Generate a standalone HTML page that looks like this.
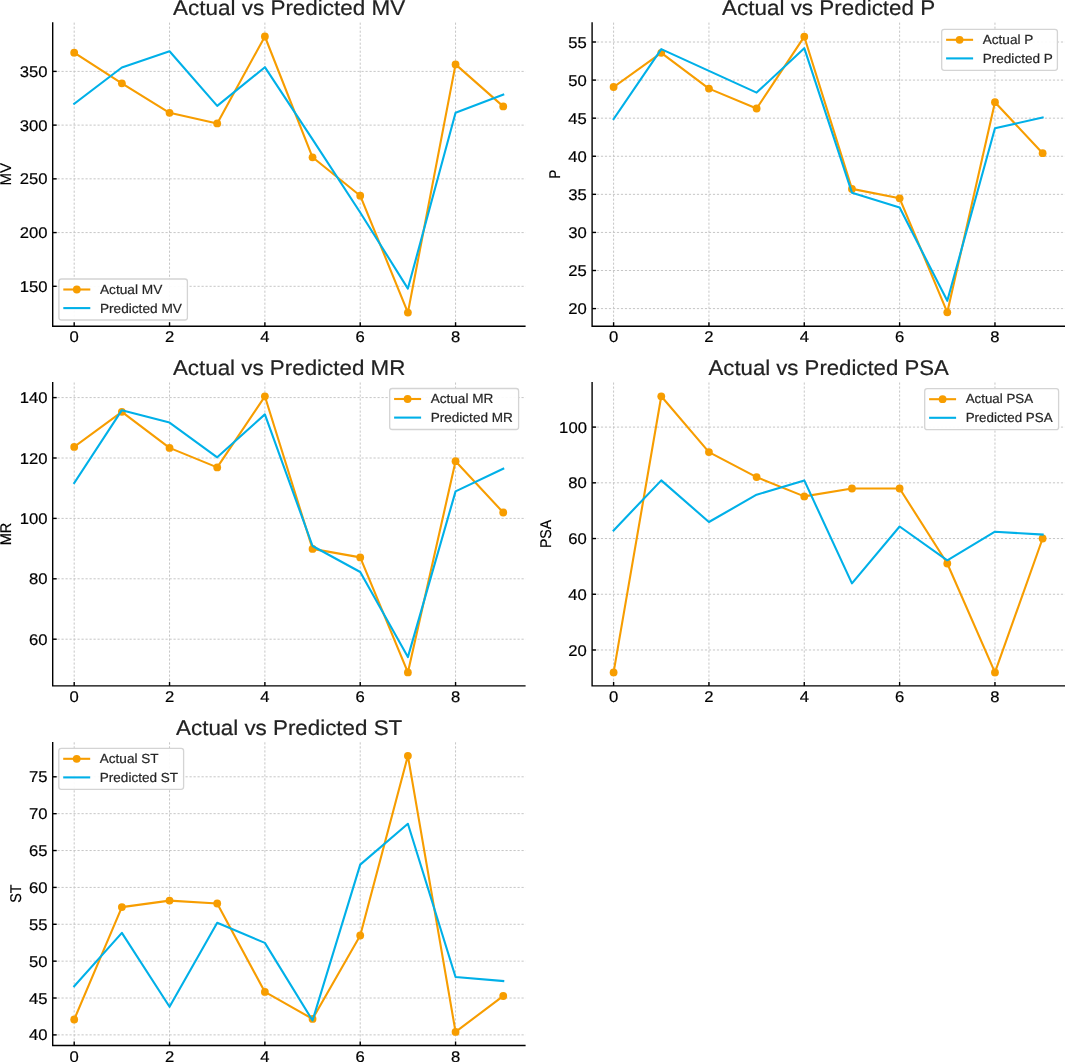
<!DOCTYPE html>
<html><head><meta charset="utf-8"><style>
html,body{margin:0;padding:0;background:#fff;}
svg{display:block;will-change:transform;}
text{font-family:"Liberation Sans",sans-serif;text-rendering:geometricPrecision;stroke-width:0.2px;}
</style></head><body>
<svg width="1065" height="1062" viewBox="0 0 1065 1062">
<rect width="1065" height="1062" fill="#fff"/>
<g stroke="#c6c6c6" stroke-width="1" stroke-dasharray="2.2 1.8" fill="none">
<line x1="74.2" y1="22.2" x2="74.2" y2="326.2" stroke-dashoffset="-0.4"/>
<line x1="169.54" y1="22.2" x2="169.54" y2="326.2" stroke-dashoffset="-0.4"/>
<line x1="264.88" y1="22.2" x2="264.88" y2="326.2" stroke-dashoffset="-0.4"/>
<line x1="360.22" y1="22.2" x2="360.22" y2="326.2" stroke-dashoffset="-0.4"/>
<line x1="455.56" y1="22.2" x2="455.56" y2="326.2" stroke-dashoffset="-0.4"/>
<line x1="52.7" y1="286.3" x2="525.6" y2="286.3" stroke-dashoffset="-0.8"/>
<line x1="52.7" y1="232.58" x2="525.6" y2="232.58" stroke-dashoffset="-0.8"/>
<line x1="52.7" y1="178.85" x2="525.6" y2="178.85" stroke-dashoffset="-0.8"/>
<line x1="52.7" y1="125.12" x2="525.6" y2="125.12" stroke-dashoffset="-0.8"/>
<line x1="52.7" y1="71.4" x2="525.6" y2="71.4" stroke-dashoffset="-0.8"/>
<line x1="613.6" y1="22.2" x2="613.6" y2="326.2" stroke-dashoffset="-0.4"/>
<line x1="708.94" y1="22.2" x2="708.94" y2="326.2" stroke-dashoffset="-0.4"/>
<line x1="804.28" y1="22.2" x2="804.28" y2="326.2" stroke-dashoffset="-0.4"/>
<line x1="899.62" y1="22.2" x2="899.62" y2="326.2" stroke-dashoffset="-0.4"/>
<line x1="994.96" y1="22.2" x2="994.96" y2="326.2" stroke-dashoffset="-0.4"/>
<line x1="592.1" y1="308.6" x2="1065.2" y2="308.6" stroke-dashoffset="-0.8"/>
<line x1="592.1" y1="270.51" x2="1065.2" y2="270.51" stroke-dashoffset="-0.8"/>
<line x1="592.1" y1="232.43" x2="1065.2" y2="232.43" stroke-dashoffset="-0.8"/>
<line x1="592.1" y1="194.34" x2="1065.2" y2="194.34" stroke-dashoffset="-0.8"/>
<line x1="592.1" y1="156.25" x2="1065.2" y2="156.25" stroke-dashoffset="-0.8"/>
<line x1="592.1" y1="118.17" x2="1065.2" y2="118.17" stroke-dashoffset="-0.8"/>
<line x1="592.1" y1="80.09" x2="1065.2" y2="80.09" stroke-dashoffset="-0.8"/>
<line x1="592.1" y1="42" x2="1065.2" y2="42" stroke-dashoffset="-0.8"/>
<line x1="74.2" y1="382.1" x2="74.2" y2="685.9" stroke-dashoffset="-0.4"/>
<line x1="169.54" y1="382.1" x2="169.54" y2="685.9" stroke-dashoffset="-0.4"/>
<line x1="264.88" y1="382.1" x2="264.88" y2="685.9" stroke-dashoffset="-0.4"/>
<line x1="360.22" y1="382.1" x2="360.22" y2="685.9" stroke-dashoffset="-0.4"/>
<line x1="455.56" y1="382.1" x2="455.56" y2="685.9" stroke-dashoffset="-0.4"/>
<line x1="52.7" y1="639.2" x2="525.6" y2="639.2" stroke-dashoffset="-0.8"/>
<line x1="52.7" y1="578.8" x2="525.6" y2="578.8" stroke-dashoffset="-0.8"/>
<line x1="52.7" y1="518.4" x2="525.6" y2="518.4" stroke-dashoffset="-0.8"/>
<line x1="52.7" y1="458" x2="525.6" y2="458" stroke-dashoffset="-0.8"/>
<line x1="52.7" y1="397.6" x2="525.6" y2="397.6" stroke-dashoffset="-0.8"/>
<line x1="613.6" y1="382.1" x2="613.6" y2="685.9" stroke-dashoffset="-0.4"/>
<line x1="708.94" y1="382.1" x2="708.94" y2="685.9" stroke-dashoffset="-0.4"/>
<line x1="804.28" y1="382.1" x2="804.28" y2="685.9" stroke-dashoffset="-0.4"/>
<line x1="899.62" y1="382.1" x2="899.62" y2="685.9" stroke-dashoffset="-0.4"/>
<line x1="994.96" y1="382.1" x2="994.96" y2="685.9" stroke-dashoffset="-0.4"/>
<line x1="592.1" y1="649.98" x2="1065.2" y2="649.98" stroke-dashoffset="-0.8"/>
<line x1="592.1" y1="594.26" x2="1065.2" y2="594.26" stroke-dashoffset="-0.8"/>
<line x1="592.1" y1="538.54" x2="1065.2" y2="538.54" stroke-dashoffset="-0.8"/>
<line x1="592.1" y1="482.82" x2="1065.2" y2="482.82" stroke-dashoffset="-0.8"/>
<line x1="592.1" y1="427.1" x2="1065.2" y2="427.1" stroke-dashoffset="-0.8"/>
<line x1="74.2" y1="741.9" x2="74.2" y2="1045.5" stroke-dashoffset="-0.4"/>
<line x1="169.54" y1="741.9" x2="169.54" y2="1045.5" stroke-dashoffset="-0.4"/>
<line x1="264.88" y1="741.9" x2="264.88" y2="1045.5" stroke-dashoffset="-0.4"/>
<line x1="360.22" y1="741.9" x2="360.22" y2="1045.5" stroke-dashoffset="-0.4"/>
<line x1="455.56" y1="741.9" x2="455.56" y2="1045.5" stroke-dashoffset="-0.4"/>
<line x1="52.7" y1="1034.89" x2="525.6" y2="1034.89" stroke-dashoffset="-0.8"/>
<line x1="52.7" y1="998.02" x2="525.6" y2="998.02" stroke-dashoffset="-0.8"/>
<line x1="52.7" y1="961.15" x2="525.6" y2="961.15" stroke-dashoffset="-0.8"/>
<line x1="52.7" y1="924.28" x2="525.6" y2="924.28" stroke-dashoffset="-0.8"/>
<line x1="52.7" y1="887.41" x2="525.6" y2="887.41" stroke-dashoffset="-0.8"/>
<line x1="52.7" y1="850.54" x2="525.6" y2="850.54" stroke-dashoffset="-0.8"/>
<line x1="52.7" y1="813.67" x2="525.6" y2="813.67" stroke-dashoffset="-0.8"/>
<line x1="52.7" y1="776.8" x2="525.6" y2="776.8" stroke-dashoffset="-0.8"/>
</g>
<g fill="none" stroke-width="2.1" stroke-linejoin="round" stroke-linecap="square">
<polyline points="74.2,52.7 121.87,83.3 169.54,112.8 217.21,123.4 264.88,36.5 312.55,157.3 360.22,195.7 407.89,312.6 455.56,64.4 503.23,106.4" stroke="#F79D00"/>
<circle cx="74.2" cy="52.7" r="3.9" fill="#F79D00" stroke="none"/>
<circle cx="121.87" cy="83.3" r="3.9" fill="#F79D00" stroke="none"/>
<circle cx="169.54" cy="112.8" r="3.9" fill="#F79D00" stroke="none"/>
<circle cx="217.21" cy="123.4" r="3.9" fill="#F79D00" stroke="none"/>
<circle cx="264.88" cy="36.5" r="3.9" fill="#F79D00" stroke="none"/>
<circle cx="312.55" cy="157.3" r="3.9" fill="#F79D00" stroke="none"/>
<circle cx="360.22" cy="195.7" r="3.9" fill="#F79D00" stroke="none"/>
<circle cx="407.89" cy="312.6" r="3.9" fill="#F79D00" stroke="none"/>
<circle cx="455.56" cy="64.4" r="3.9" fill="#F79D00" stroke="none"/>
<circle cx="503.23" cy="106.4" r="3.9" fill="#F79D00" stroke="none"/>
<polyline points="74.2,103.8 121.87,67.5 169.54,51.3 217.21,105.9 264.88,67.2 312.55,139.3 360.22,212.5 407.89,288.6 455.56,112.8 503.23,94.7" stroke="#00B0E8"/>
<polyline points="613.6,87 661.27,52.8 708.94,88.6 756.61,108.5 804.28,36.7 851.95,188.9 899.62,198.3 947.29,312.3 994.96,102.2 1042.63,153.2" stroke="#F79D00"/>
<circle cx="613.6" cy="87" r="3.9" fill="#F79D00" stroke="none"/>
<circle cx="661.27" cy="52.8" r="3.9" fill="#F79D00" stroke="none"/>
<circle cx="708.94" cy="88.6" r="3.9" fill="#F79D00" stroke="none"/>
<circle cx="756.61" cy="108.5" r="3.9" fill="#F79D00" stroke="none"/>
<circle cx="804.28" cy="36.7" r="3.9" fill="#F79D00" stroke="none"/>
<circle cx="851.95" cy="188.9" r="3.9" fill="#F79D00" stroke="none"/>
<circle cx="899.62" cy="198.3" r="3.9" fill="#F79D00" stroke="none"/>
<circle cx="947.29" cy="312.3" r="3.9" fill="#F79D00" stroke="none"/>
<circle cx="994.96" cy="102.2" r="3.9" fill="#F79D00" stroke="none"/>
<circle cx="1042.63" cy="153.2" r="3.9" fill="#F79D00" stroke="none"/>
<polyline points="613.6,119 661.27,49.1 708.94,70.9 756.61,92.6 804.28,48.2 851.95,192.7 899.62,207.6 947.29,300.8 994.96,128.3 1042.63,117.5" stroke="#00B0E8"/>
<polyline points="74.2,446.9 121.87,411.8 169.54,447.9 217.21,467.4 264.88,396.3 312.55,548.9 360.22,557.4 407.89,672.4 455.56,461.2 503.23,512.5" stroke="#F79D00"/>
<circle cx="74.2" cy="446.9" r="3.9" fill="#F79D00" stroke="none"/>
<circle cx="121.87" cy="411.8" r="3.9" fill="#F79D00" stroke="none"/>
<circle cx="169.54" cy="447.9" r="3.9" fill="#F79D00" stroke="none"/>
<circle cx="217.21" cy="467.4" r="3.9" fill="#F79D00" stroke="none"/>
<circle cx="264.88" cy="396.3" r="3.9" fill="#F79D00" stroke="none"/>
<circle cx="312.55" cy="548.9" r="3.9" fill="#F79D00" stroke="none"/>
<circle cx="360.22" cy="557.4" r="3.9" fill="#F79D00" stroke="none"/>
<circle cx="407.89" cy="672.4" r="3.9" fill="#F79D00" stroke="none"/>
<circle cx="455.56" cy="461.2" r="3.9" fill="#F79D00" stroke="none"/>
<circle cx="503.23" cy="512.5" r="3.9" fill="#F79D00" stroke="none"/>
<polyline points="74.2,483 121.87,410.2 169.54,422.6 217.21,457.3 264.88,414.4 312.55,546 360.22,572 407.89,657.1 455.56,491.4 503.23,468.7" stroke="#00B0E8"/>
<polyline points="613.6,672.4 661.27,396.3 708.94,452.1 756.61,477.1 804.28,496.4 851.95,488.5 899.62,488.5 947.29,563.5 994.96,672.4 1042.63,538.5" stroke="#F79D00"/>
<circle cx="613.6" cy="672.4" r="3.9" fill="#F79D00" stroke="none"/>
<circle cx="661.27" cy="396.3" r="3.9" fill="#F79D00" stroke="none"/>
<circle cx="708.94" cy="452.1" r="3.9" fill="#F79D00" stroke="none"/>
<circle cx="756.61" cy="477.1" r="3.9" fill="#F79D00" stroke="none"/>
<circle cx="804.28" cy="496.4" r="3.9" fill="#F79D00" stroke="none"/>
<circle cx="851.95" cy="488.5" r="3.9" fill="#F79D00" stroke="none"/>
<circle cx="899.62" cy="488.5" r="3.9" fill="#F79D00" stroke="none"/>
<circle cx="947.29" cy="563.5" r="3.9" fill="#F79D00" stroke="none"/>
<circle cx="994.96" cy="672.4" r="3.9" fill="#F79D00" stroke="none"/>
<circle cx="1042.63" cy="538.5" r="3.9" fill="#F79D00" stroke="none"/>
<polyline points="613.6,530.4 661.27,480.4 708.94,522 756.61,494.7 804.28,480.4 851.95,583.4 899.62,526.5 947.29,560.3 994.96,531.7 1042.63,534.6" stroke="#00B0E8"/>
<polyline points="74.2,1019.5 121.87,907.1 169.54,900.6 217.21,903.5 264.88,991.9 312.55,1018.9 360.22,935.5 407.89,755.8 455.56,1031.9 503.23,996" stroke="#F79D00"/>
<circle cx="74.2" cy="1019.5" r="3.9" fill="#F79D00" stroke="none"/>
<circle cx="121.87" cy="907.1" r="3.9" fill="#F79D00" stroke="none"/>
<circle cx="169.54" cy="900.6" r="3.9" fill="#F79D00" stroke="none"/>
<circle cx="217.21" cy="903.5" r="3.9" fill="#F79D00" stroke="none"/>
<circle cx="264.88" cy="991.9" r="3.9" fill="#F79D00" stroke="none"/>
<circle cx="312.55" cy="1018.9" r="3.9" fill="#F79D00" stroke="none"/>
<circle cx="360.22" cy="935.5" r="3.9" fill="#F79D00" stroke="none"/>
<circle cx="407.89" cy="755.8" r="3.9" fill="#F79D00" stroke="none"/>
<circle cx="455.56" cy="1031.9" r="3.9" fill="#F79D00" stroke="none"/>
<circle cx="503.23" cy="996" r="3.9" fill="#F79D00" stroke="none"/>
<polyline points="74.2,986.2 121.87,932.9 169.54,1006.8 217.21,922.8 264.88,942.9 312.55,1020.5 360.22,864.6 407.89,823.8 455.56,977 503.23,981" stroke="#00B0E8"/>
</g>
<g stroke="#000" stroke-width="1.4" fill="none" stroke-linecap="butt">
<path d="M52.7 22.2V326.2H525.6"/>
<path d="M74.2 326.2v-4.0"/>
<path d="M169.54 326.2v-4.0"/>
<path d="M264.88 326.2v-4.0"/>
<path d="M360.22 326.2v-4.0"/>
<path d="M455.56 326.2v-4.0"/>
<path d="M52.7 286.3h4.0"/>
<path d="M52.7 232.58h4.0"/>
<path d="M52.7 178.85h4.0"/>
<path d="M52.7 125.12h4.0"/>
<path d="M52.7 71.4h4.0"/>
<path d="M592.1 22.2V326.2H1065.2"/>
<path d="M613.6 326.2v-4.0"/>
<path d="M708.94 326.2v-4.0"/>
<path d="M804.28 326.2v-4.0"/>
<path d="M899.62 326.2v-4.0"/>
<path d="M994.96 326.2v-4.0"/>
<path d="M592.1 308.6h4.0"/>
<path d="M592.1 270.51h4.0"/>
<path d="M592.1 232.43h4.0"/>
<path d="M592.1 194.34h4.0"/>
<path d="M592.1 156.25h4.0"/>
<path d="M592.1 118.17h4.0"/>
<path d="M592.1 80.09h4.0"/>
<path d="M592.1 42h4.0"/>
<path d="M52.7 382.1V685.9H525.6"/>
<path d="M74.2 685.9v-4.0"/>
<path d="M169.54 685.9v-4.0"/>
<path d="M264.88 685.9v-4.0"/>
<path d="M360.22 685.9v-4.0"/>
<path d="M455.56 685.9v-4.0"/>
<path d="M52.7 639.2h4.0"/>
<path d="M52.7 578.8h4.0"/>
<path d="M52.7 518.4h4.0"/>
<path d="M52.7 458h4.0"/>
<path d="M52.7 397.6h4.0"/>
<path d="M592.1 382.1V685.9H1065.2"/>
<path d="M613.6 685.9v-4.0"/>
<path d="M708.94 685.9v-4.0"/>
<path d="M804.28 685.9v-4.0"/>
<path d="M899.62 685.9v-4.0"/>
<path d="M994.96 685.9v-4.0"/>
<path d="M592.1 649.98h4.0"/>
<path d="M592.1 594.26h4.0"/>
<path d="M592.1 538.54h4.0"/>
<path d="M592.1 482.82h4.0"/>
<path d="M592.1 427.1h4.0"/>
<path d="M52.7 741.9V1045.5H525.6"/>
<path d="M74.2 1045.5v-4.0"/>
<path d="M169.54 1045.5v-4.0"/>
<path d="M264.88 1045.5v-4.0"/>
<path d="M360.22 1045.5v-4.0"/>
<path d="M455.56 1045.5v-4.0"/>
<path d="M52.7 1034.89h4.0"/>
<path d="M52.7 998.02h4.0"/>
<path d="M52.7 961.15h4.0"/>
<path d="M52.7 924.28h4.0"/>
<path d="M52.7 887.41h4.0"/>
<path d="M52.7 850.54h4.0"/>
<path d="M52.7 813.67h4.0"/>
<path d="M52.7 776.8h4.0"/>
</g>
<g>
<rect x="58.9" y="279" width="128.5" height="41" rx="2.5" fill="#fff" fill-opacity="0.92" stroke="#d4d4d4" stroke-width="1.3"/>
<line x1="63.3" y1="289.5" x2="90.3" y2="289.5" stroke="#F79D00" stroke-width="2.1"/>
<circle cx="76.8" cy="289.5" r="3.9" fill="#F79D00"/>
<line x1="63.3" y1="308.1" x2="90.3" y2="308.1" stroke="#00B0E8" stroke-width="2.1"/>
<text x="99.9" y="293.6" font-size="13.2" fill="#262626" stroke="#262626" textLength="62.47" lengthAdjust="spacingAndGlyphs">Actual MV</text>
<text x="99.9" y="312.6" font-size="13.2" fill="#262626" stroke="#262626" textLength="81.99" lengthAdjust="spacingAndGlyphs">Predicted MV</text>
<rect x="941.7" y="29.3" width="115.7" height="41" rx="2.5" fill="#fff" fill-opacity="0.92" stroke="#d4d4d4" stroke-width="1.3"/>
<line x1="946.1" y1="39.8" x2="973.1" y2="39.8" stroke="#F79D00" stroke-width="2.1"/>
<circle cx="959.6" cy="39.8" r="3.9" fill="#F79D00"/>
<line x1="946.1" y1="58.4" x2="973.1" y2="58.4" stroke="#00B0E8" stroke-width="2.1"/>
<text x="982.7" y="43.9" font-size="13.2" fill="#262626" stroke="#262626" textLength="50.67" lengthAdjust="spacingAndGlyphs">Actual P</text>
<text x="982.7" y="62.9" font-size="13.2" fill="#262626" stroke="#262626" textLength="70.19" lengthAdjust="spacingAndGlyphs">Predicted P</text>
<rect x="389.7" y="388.5" width="128.9" height="41" rx="2.5" fill="#fff" fill-opacity="0.92" stroke="#d4d4d4" stroke-width="1.3"/>
<line x1="394.1" y1="399" x2="421.1" y2="399" stroke="#F79D00" stroke-width="2.1"/>
<circle cx="407.6" cy="399" r="3.9" fill="#F79D00"/>
<line x1="394.1" y1="417.6" x2="421.1" y2="417.6" stroke="#00B0E8" stroke-width="2.1"/>
<text x="430.7" y="403.1" font-size="13.2" fill="#262626" stroke="#262626" textLength="62.6" lengthAdjust="spacingAndGlyphs">Actual MR</text>
<text x="430.7" y="422.1" font-size="13.2" fill="#262626" stroke="#262626" textLength="82.12" lengthAdjust="spacingAndGlyphs">Predicted MR</text>
<rect x="924.7" y="388.7" width="133.9" height="41" rx="2.5" fill="#fff" fill-opacity="0.92" stroke="#d4d4d4" stroke-width="1.3"/>
<line x1="929.1" y1="399.2" x2="956.1" y2="399.2" stroke="#F79D00" stroke-width="2.1"/>
<circle cx="942.6" cy="399.2" r="3.9" fill="#F79D00"/>
<line x1="929.1" y1="417.8" x2="956.1" y2="417.8" stroke="#00B0E8" stroke-width="2.1"/>
<text x="965.7" y="403.3" font-size="13.2" fill="#262626" stroke="#262626" textLength="67.39" lengthAdjust="spacingAndGlyphs">Actual PSA</text>
<text x="965.7" y="422.3" font-size="13.2" fill="#262626" stroke="#262626" textLength="86.91" lengthAdjust="spacingAndGlyphs">Predicted PSA</text>
<rect x="58.8" y="748.3" width="124.8" height="41" rx="2.5" fill="#fff" fill-opacity="0.92" stroke="#d4d4d4" stroke-width="1.3"/>
<line x1="63.2" y1="758.8" x2="90.2" y2="758.8" stroke="#F79D00" stroke-width="2.1"/>
<circle cx="76.7" cy="758.8" r="3.9" fill="#F79D00"/>
<line x1="63.2" y1="777.4" x2="90.2" y2="777.4" stroke="#00B0E8" stroke-width="2.1"/>
<text x="99.8" y="762.9" font-size="13.2" fill="#262626" stroke="#262626" textLength="58.7" lengthAdjust="spacingAndGlyphs">Actual ST</text>
<text x="99.8" y="781.9" font-size="13.2" fill="#262626" stroke="#262626" textLength="78.22" lengthAdjust="spacingAndGlyphs">Predicted ST</text>
</g>
<g fill="#000" stroke="#000">
<text x="74.2" y="342.2" text-anchor="middle" font-size="15.5" textLength="9.26" lengthAdjust="spacingAndGlyphs">0</text>
<text x="169.54" y="342.2" text-anchor="middle" font-size="15.5" textLength="9.26" lengthAdjust="spacingAndGlyphs">2</text>
<text x="264.88" y="342.2" text-anchor="middle" font-size="15.5" textLength="9.26" lengthAdjust="spacingAndGlyphs">4</text>
<text x="360.22" y="342.2" text-anchor="middle" font-size="15.5" textLength="9.26" lengthAdjust="spacingAndGlyphs">6</text>
<text x="455.56" y="342.2" text-anchor="middle" font-size="15.5" textLength="9.26" lengthAdjust="spacingAndGlyphs">8</text>
<text x="47.5" y="291.9" text-anchor="end" font-size="15.5" textLength="27.77" lengthAdjust="spacingAndGlyphs">150</text>
<text x="47.5" y="238.18" text-anchor="end" font-size="15.5" textLength="27.77" lengthAdjust="spacingAndGlyphs">200</text>
<text x="47.5" y="184.45" text-anchor="end" font-size="15.5" textLength="27.77" lengthAdjust="spacingAndGlyphs">250</text>
<text x="47.5" y="130.72" text-anchor="end" font-size="15.5" textLength="27.77" lengthAdjust="spacingAndGlyphs">300</text>
<text x="47.5" y="77" text-anchor="end" font-size="15.5" textLength="27.77" lengthAdjust="spacingAndGlyphs">350</text>
<text transform="translate(10.5 174.2) rotate(-90)" x="0" y="0" text-anchor="middle" font-size="15.5" textLength="22.51" lengthAdjust="spacingAndGlyphs">MV</text>
<text x="289.15" y="15.2" text-anchor="middle" font-size="21.3" fill="#222" stroke="#222" textLength="232.24" lengthAdjust="spacingAndGlyphs">Actual vs Predicted MV</text>
<text x="613.6" y="342.2" text-anchor="middle" font-size="15.5" textLength="9.26" lengthAdjust="spacingAndGlyphs">0</text>
<text x="708.94" y="342.2" text-anchor="middle" font-size="15.5" textLength="9.26" lengthAdjust="spacingAndGlyphs">2</text>
<text x="804.28" y="342.2" text-anchor="middle" font-size="15.5" textLength="9.26" lengthAdjust="spacingAndGlyphs">4</text>
<text x="899.62" y="342.2" text-anchor="middle" font-size="15.5" textLength="9.26" lengthAdjust="spacingAndGlyphs">6</text>
<text x="994.96" y="342.2" text-anchor="middle" font-size="15.5" textLength="9.26" lengthAdjust="spacingAndGlyphs">8</text>
<text x="586.9" y="314.2" text-anchor="end" font-size="15.5" textLength="18.51" lengthAdjust="spacingAndGlyphs">20</text>
<text x="586.9" y="276.11" text-anchor="end" font-size="15.5" textLength="18.51" lengthAdjust="spacingAndGlyphs">25</text>
<text x="586.9" y="238.03" text-anchor="end" font-size="15.5" textLength="18.51" lengthAdjust="spacingAndGlyphs">30</text>
<text x="586.9" y="199.94" text-anchor="end" font-size="15.5" textLength="18.51" lengthAdjust="spacingAndGlyphs">35</text>
<text x="586.9" y="161.85" text-anchor="end" font-size="15.5" textLength="18.51" lengthAdjust="spacingAndGlyphs">40</text>
<text x="586.9" y="123.77" text-anchor="end" font-size="15.5" textLength="18.51" lengthAdjust="spacingAndGlyphs">45</text>
<text x="586.9" y="85.69" text-anchor="end" font-size="15.5" textLength="18.51" lengthAdjust="spacingAndGlyphs">50</text>
<text x="586.9" y="47.6" text-anchor="end" font-size="15.5" textLength="18.51" lengthAdjust="spacingAndGlyphs">55</text>
<text transform="translate(559.9 174.2) rotate(-90)" x="0" y="0" text-anchor="middle" font-size="15.5" textLength="8.77" lengthAdjust="spacingAndGlyphs">P</text>
<text x="828.65" y="15.2" text-anchor="middle" font-size="21.3" fill="#222" stroke="#222" textLength="213.08" lengthAdjust="spacingAndGlyphs">Actual vs Predicted P</text>
<text x="74.2" y="701.9" text-anchor="middle" font-size="15.5" textLength="9.26" lengthAdjust="spacingAndGlyphs">0</text>
<text x="169.54" y="701.9" text-anchor="middle" font-size="15.5" textLength="9.26" lengthAdjust="spacingAndGlyphs">2</text>
<text x="264.88" y="701.9" text-anchor="middle" font-size="15.5" textLength="9.26" lengthAdjust="spacingAndGlyphs">4</text>
<text x="360.22" y="701.9" text-anchor="middle" font-size="15.5" textLength="9.26" lengthAdjust="spacingAndGlyphs">6</text>
<text x="455.56" y="701.9" text-anchor="middle" font-size="15.5" textLength="9.26" lengthAdjust="spacingAndGlyphs">8</text>
<text x="47.5" y="644.8" text-anchor="end" font-size="15.5" textLength="18.51" lengthAdjust="spacingAndGlyphs">60</text>
<text x="47.5" y="584.4" text-anchor="end" font-size="15.5" textLength="18.51" lengthAdjust="spacingAndGlyphs">80</text>
<text x="47.5" y="524" text-anchor="end" font-size="15.5" textLength="27.77" lengthAdjust="spacingAndGlyphs">100</text>
<text x="47.5" y="463.6" text-anchor="end" font-size="15.5" textLength="27.77" lengthAdjust="spacingAndGlyphs">120</text>
<text x="47.5" y="403.2" text-anchor="end" font-size="15.5" textLength="27.77" lengthAdjust="spacingAndGlyphs">140</text>
<text transform="translate(10.7 534) rotate(-90)" x="0" y="0" text-anchor="middle" font-size="15.5" textLength="22.66" lengthAdjust="spacingAndGlyphs">MR</text>
<text x="289.15" y="375.1" text-anchor="middle" font-size="21.3" fill="#222" stroke="#222" textLength="232.46" lengthAdjust="spacingAndGlyphs">Actual vs Predicted MR</text>
<text x="613.6" y="701.9" text-anchor="middle" font-size="15.5" textLength="9.26" lengthAdjust="spacingAndGlyphs">0</text>
<text x="708.94" y="701.9" text-anchor="middle" font-size="15.5" textLength="9.26" lengthAdjust="spacingAndGlyphs">2</text>
<text x="804.28" y="701.9" text-anchor="middle" font-size="15.5" textLength="9.26" lengthAdjust="spacingAndGlyphs">4</text>
<text x="899.62" y="701.9" text-anchor="middle" font-size="15.5" textLength="9.26" lengthAdjust="spacingAndGlyphs">6</text>
<text x="994.96" y="701.9" text-anchor="middle" font-size="15.5" textLength="9.26" lengthAdjust="spacingAndGlyphs">8</text>
<text x="586.9" y="655.58" text-anchor="end" font-size="15.5" textLength="18.51" lengthAdjust="spacingAndGlyphs">20</text>
<text x="586.9" y="599.86" text-anchor="end" font-size="15.5" textLength="18.51" lengthAdjust="spacingAndGlyphs">40</text>
<text x="586.9" y="544.14" text-anchor="end" font-size="15.5" textLength="18.51" lengthAdjust="spacingAndGlyphs">60</text>
<text x="586.9" y="488.42" text-anchor="end" font-size="15.5" textLength="18.51" lengthAdjust="spacingAndGlyphs">80</text>
<text x="586.9" y="432.7" text-anchor="end" font-size="15.5" textLength="27.77" lengthAdjust="spacingAndGlyphs">100</text>
<text transform="translate(550.7 534) rotate(-90)" x="0" y="0" text-anchor="middle" font-size="15.5" textLength="28.23" lengthAdjust="spacingAndGlyphs">PSA</text>
<text x="828.65" y="375.1" text-anchor="middle" font-size="21.3" fill="#222" stroke="#222" textLength="240.23" lengthAdjust="spacingAndGlyphs">Actual vs Predicted PSA</text>
<text x="74.2" y="1061.5" text-anchor="middle" font-size="15.5" textLength="9.26" lengthAdjust="spacingAndGlyphs">0</text>
<text x="169.54" y="1061.5" text-anchor="middle" font-size="15.5" textLength="9.26" lengthAdjust="spacingAndGlyphs">2</text>
<text x="264.88" y="1061.5" text-anchor="middle" font-size="15.5" textLength="9.26" lengthAdjust="spacingAndGlyphs">4</text>
<text x="360.22" y="1061.5" text-anchor="middle" font-size="15.5" textLength="9.26" lengthAdjust="spacingAndGlyphs">6</text>
<text x="455.56" y="1061.5" text-anchor="middle" font-size="15.5" textLength="9.26" lengthAdjust="spacingAndGlyphs">8</text>
<text x="47.5" y="1040.49" text-anchor="end" font-size="15.5" textLength="18.51" lengthAdjust="spacingAndGlyphs">40</text>
<text x="47.5" y="1003.62" text-anchor="end" font-size="15.5" textLength="18.51" lengthAdjust="spacingAndGlyphs">45</text>
<text x="47.5" y="966.75" text-anchor="end" font-size="15.5" textLength="18.51" lengthAdjust="spacingAndGlyphs">50</text>
<text x="47.5" y="929.88" text-anchor="end" font-size="15.5" textLength="18.51" lengthAdjust="spacingAndGlyphs">55</text>
<text x="47.5" y="893.01" text-anchor="end" font-size="15.5" textLength="18.51" lengthAdjust="spacingAndGlyphs">60</text>
<text x="47.5" y="856.14" text-anchor="end" font-size="15.5" textLength="18.51" lengthAdjust="spacingAndGlyphs">65</text>
<text x="47.5" y="819.27" text-anchor="end" font-size="15.5" textLength="18.51" lengthAdjust="spacingAndGlyphs">70</text>
<text x="47.5" y="782.4" text-anchor="end" font-size="15.5" textLength="18.51" lengthAdjust="spacingAndGlyphs">75</text>
<text transform="translate(20.9 893.7) rotate(-90)" x="0" y="0" text-anchor="middle" font-size="15.5" textLength="18.12" lengthAdjust="spacingAndGlyphs">ST</text>
<text x="289.15" y="734.9" text-anchor="middle" font-size="21.3" fill="#222" stroke="#222" textLength="226.13" lengthAdjust="spacingAndGlyphs">Actual vs Predicted ST</text>
</g>
</svg>
</body></html>
